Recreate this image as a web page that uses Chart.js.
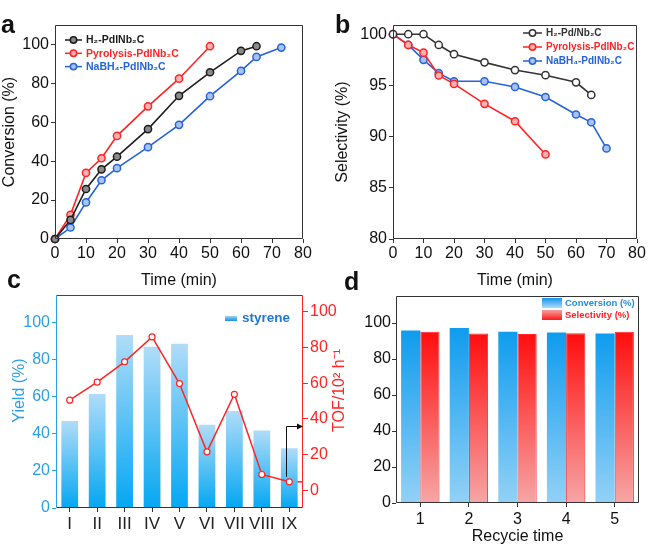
<!DOCTYPE html>
<html>
<head>
<meta charset="utf-8">
<script src="https://cdn.jsdelivr.net/npm/chart.js@4.4.1/dist/chart.umd.min.js"></script>
<style>
  body { margin: 0; background: #fff; width: 666px; height: 551px; position: relative; overflow: hidden;
         font-family: Arial, "Liberation Sans", sans-serif; }
  canvas { position: absolute; }
  .tag { position: absolute; font-weight: bold; font-size: 25px; line-height: 1; color: #111; }
</style>
</head>
<body>
<canvas id="chartA" width="333" height="292" style="left:0;top:0"></canvas>
<canvas id="chartB" width="333" height="292" style="left:333px;top:0"></canvas>
<canvas id="chartC" width="350" height="276" style="left:0;top:275px"></canvas>
<canvas id="chartD" width="333" height="276" style="left:333px;top:275px"></canvas>
<div class="tag" style="left:1px;top:12px">a</div>
<div class="tag" style="left:335px;top:12px">b</div>
<div class="tag" style="left:7px;top:267px">c</div>
<div class="tag" style="left:344px;top:269px">d</div>
<script>
// ---- Data: panel a (conversion vs time) ---------------------
const timeH2   = [0, 5, 10, 15, 20, 30, 40, 50, 60, 65];
const convH2   = [0, 9.8, 25.7, 35.8, 42.3, 56.5, 73.6, 85.7, 96.7, 99.1];
const timePyro = [0, 5, 10, 15, 20, 30, 40, 50];
const convPyro = [0, 12.4, 34, 41.5, 53, 68.2, 82.4, 99.1];
const timeNaBH = [0, 5, 10, 15, 20, 30, 40, 50, 60, 65, 73];
const convNaBH = [0, 5.9, 18.8, 30.2, 36.4, 47.2, 58.7, 73.4, 86.4, 93.6, 98.4];

// ---- Data: panel b (selectivity vs time) --------------------
const selTimeH2   = [0, 5, 10, 15, 20, 30, 40, 50, 60, 65];
const selH2       = [100, 100, 100, 98.95, 98.05, 97.25, 96.5, 96.0, 95.3, 94.07];
const selTimePyro = [0, 5, 10, 15, 20, 30, 40, 50];
const selPyro     = [100, 98.95, 98.2, 95.97, 95.15, 93.2, 91.5, 88.26];
const selTimeNaBH = [0, 5, 10, 15, 20, 30, 40, 50, 60, 65, 70];
const selNaBH     = [100, 98.95, 97.5, 96.2, 95.4, 95.4, 94.85, 93.87, 92.16, 91.4, 88.85];

// ---- Data: panel c (yield bars + TOF line) ------------------
const substrates = ["I", "II", "III", "IV", "V", "VI", "VII", "VIII", "IX"];
const yieldVals  = [47, 61.6, 93.4, 87.1, 88.7, 44.9, 52.4, 41.8, 32.3];
const tofVals    = [50.5, 60.6, 72, 86, 59.8, 21.5, 53.8, 8.8, 4.7];
const arrowFrom  = 7.5, arrowTo = 36;   // TOF-axis values for the arrow marker

// ---- Data: panel d (recycling) ------------------------------
const cycles      = ["1", "2", "3", "4", "5"];
const convRecycle = [95.8, 97.2, 95.2, 94.7, 94.1];
const selRecycle  = [95.2, 94.1, 93.9, 94.3, 95.2];

Chart.defaults.font.family = 'Arial, "Liberation Sans", sans-serif';
Chart.defaults.color = "#111";
Chart.defaults.animation = false;
Chart.defaults.events = [];

const BLACK = "#1c1c1c", RED = "#ff2323", BLUE = "#2563d8";

// ---- Plugins --------------------------------------------------
const frame = {
  id: "frame",
  afterDatasetsDraw(chart, args, o) {
    const { ctx, chartArea: a } = chart;
    const L = Math.round(a.left) + 0.5, R = Math.round(a.right) - 0.5;
    const T = Math.round(a.top) + 0.5,  B = Math.round(a.bottom) - 0.5;
    const seg = (c, x1, y1, x2, y2) => {
      ctx.strokeStyle = c; ctx.beginPath(); ctx.moveTo(x1, y1); ctx.lineTo(x2, y2); ctx.stroke();
    };
    ctx.save();
    ctx.lineWidth = 1;
    seg(o.top || "#333", L, T, R, T);
    seg(o.bottom || "#333", L, B, R, B);
    seg(o.left || "#333", L, T, L, B);
    seg(o.right || "#333", R, T, R, B);
    ctx.restore();
  },
};

const lineLegend = {
  id: "lineLegend",
  afterDatasetsDraw(chart, args, o) {
    const ctx = chart.ctx;
    ctx.save();
    chart.data.datasets.forEach((ds, i) => {
      const y = o.y + i * o.dy;
      ctx.strokeStyle = ds.borderColor;
      ctx.lineWidth = 1.5;
      ctx.beginPath(); ctx.moveTo(o.x, y); ctx.lineTo(o.x + o.len, y); ctx.stroke();
      ctx.beginPath(); ctx.arc(o.x + o.len / 2, y, 3.2, 0, Math.PI * 2);
      ctx.fillStyle = ds.pointBackgroundColor; ctx.fill(); ctx.stroke();
      ctx.fillStyle = ds.borderColor;
      ctx.font = `bold ${o.size}px Arial, "Liberation Sans", sans-serif`;
      ctx.textBaseline = "middle";
      ctx.fillText(ds.label, o.x + o.len + 4, y + 0.5);
    });
    ctx.restore();
  },
};

function barGradient(top, bottom, axisId) {
  return (c) => {
    const chart = c.chart;
    if (!chart.chartArea || c.raw === undefined) return bottom;
    const ys = chart.scales[axisId];
    const y0 = ys.getPixelForValue(c.raw), y1 = ys.getPixelForValue(0);
    const g = chart.ctx.createLinearGradient(0, y0, 0, y1);
    g.addColorStop(0, top);
    g.addColorStop(1, bottom);
    return g;
  };
}

const keepTicks = (lo, hi, step) => (s) => {
  s.ticks = s.ticks.filter((t) => t.value >= lo && t.value <= hi && Math.abs(t.value % step) < 1e-6);
};

function tickFont(size) { return { size: size }; }

function linePanel(id, sets, yMin, yMax, yStep, yTitle, yWidth, padRight, legendCfg) {
  return new Chart(document.getElementById(id), {
    type: "line",
    data: {
      datasets: sets.map((s) => ({
        label: s.label,
        data: s.x.map((x, i) => ({ x: x, y: s.y[i] })),
        borderColor: s.color,
        backgroundColor: s.color,
        pointBackgroundColor: s.fill,
        pointBorderColor: s.color,
        pointRadius: 3.6,
        pointBorderWidth: 1.5,
        borderWidth: 1.6,
        clip: false,
      })),
    },
    options: {
      responsive: false,
      layout: { padding: { top: 25, right: padRight, left: 0, bottom: 0 } },
      plugins: { legend: { display: false }, tooltip: { enabled: false },
                 frame: {}, lineLegend: legendCfg },
      scales: {
        x: {
          type: "linear", min: 0, max: 80,
          ticks: { stepSize: 10, padding: 1, font: tickFont(16), color: "#111", maxRotation: 0 },
          grid: { drawOnChartArea: false, tickLength: 4, color: "#333" },
          border: { display: false },
          title: { display: true, text: "Time (min)", font: { size: 16 }, color: "#111",
                   padding: { top: 0, bottom: 2 } },
          afterFit: (s) => { s.height = 53; },
        },
        y: {
          min: yMin, max: yMax,
          ticks: { stepSize: yStep, padding: 2, font: tickFont(16), color: "#111", includeBounds: false },
          grid: { drawOnChartArea: false, tickLength: 4, color: "#333" },
          border: { display: false },
          title: { display: true, text: yTitle, font: { size: 16 }, color: "#111",
                   padding: { top: 0, bottom: 0 } },
          afterBuildTicks: keepTicks(yMin, 100, yStep),
          afterFit: (s) => { s.width = yWidth; },
        },
      },
    },
    plugins: [frame, lineLegend],
  });
}

// ---- Panel a --------------------------------------------------
linePanel("chartA", [
  { label: "H₂-PdlNb₂C",        x: timeH2,   y: convH2,   color: BLACK, fill: "#8a8a8a" },
  { label: "Pyrolysis-PdlNb₂C", x: timePyro, y: convPyro, color: RED,   fill: "#ffb0b0" },
  { label: "NaBH₄-PdlNb₂C",     x: timeNaBH, y: convNaBH, color: BLUE,  fill: "#a9c2f2" },
], 0, 110, 20, "Conversion (%)", 55, 30, { x: 65, y: 40, dy: 13.3, len: 17, size: 10.5 });

// ---- Panel b --------------------------------------------------
linePanel("chartB", [
  { label: "H₂-Pd/Nb₂C",        x: selTimeH2,   y: selH2,   color: "#333", fill: "#ffffff" },
  { label: "Pyrolysis-PdlNb₂C", x: selTimePyro, y: selPyro, color: RED,    fill: "#ffb0b0" },
  { label: "NaBH₄-PdlNb₂C",     x: selTimeNaBH, y: selNaBH, color: BLUE,   fill: "#a9c2f2" },
], 80, 100.9, 5, "Selectivity (%)", 60, 29, { x: 190, y: 33, dy: 14, len: 19, size: 10 });

// ---- Panel c --------------------------------------------------
const C_BLUE = "#2aa0e4", C_RED = "#ff2424";
const panelC = {
  id: "panelC",
  beforeDatasetsDraw(chart) {
    // TOF line continues flat to the right frame
    const meta = chart.getDatasetMeta(1);
    const last = meta.data[meta.data.length - 1];
    const ctx = chart.ctx;
    ctx.save();
    ctx.strokeStyle = C_RED; ctx.lineWidth = 1.5;
    ctx.beginPath(); ctx.moveTo(last.x, last.y); ctx.lineTo(chart.chartArea.right, last.y); ctx.stroke();
    ctx.restore();
  },
  afterDatasetsDraw(chart) {
    const { ctx, chartArea: a, scales } = chart;
    ctx.save();
    // arrow pointing to the TOF axis
    const x = Math.round(scales.x.getPixelForValue(substrates.length - 1)) - 2.5;
    const y1 = scales.yR.getPixelForValue(arrowFrom), y2 = Math.round(scales.yR.getPixelForValue(arrowTo)) + 0.5;
    ctx.strokeStyle = "#111"; ctx.fillStyle = "#111"; ctx.lineWidth = 1;
    ctx.beginPath(); ctx.moveTo(x, y1); ctx.lineTo(x, y2); ctx.lineTo(a.right - 5, y2); ctx.stroke();
    ctx.beginPath(); ctx.moveTo(a.right, y2); ctx.lineTo(a.right - 6, y2 - 3); ctx.lineTo(a.right - 6, y2 + 3);
    ctx.closePath(); ctx.fill();

    // legend "styrene"
    const g = ctx.createLinearGradient(0, 41, 0, 46);
    g.addColorStop(0, "#9fd3f6"); g.addColorStop(1, "#1a8fe0");
    ctx.fillStyle = g; ctx.fillRect(225, 41, 12, 5);
    ctx.fillStyle = "#2179d4";
    ctx.font = 'bold 13.5px Arial, "Liberation Sans", sans-serif';
    ctx.textBaseline = "middle";
    ctx.fillText("styrene", 242, 43);

    // axis titles (both read bottom-to-top)
    const cy = (a.top + a.bottom) / 2 - 11;
    ctx.font = '16px Arial, "Liberation Sans", sans-serif';
    ctx.textAlign = "center";
    ctx.fillStyle = C_BLUE;
    ctx.save(); ctx.translate(20, cy); ctx.rotate(-Math.PI / 2); ctx.fillText("Yield (%)", 0, 0); ctx.restore();
    ctx.fillStyle = C_RED;
    ctx.save(); ctx.translate(a.right + 37, cy); ctx.rotate(-Math.PI / 2); ctx.fillText("TOF/10² h⁻¹", 0, 0); ctx.restore();
    ctx.restore();
  },
};

new Chart(document.getElementById("chartC"), {
  type: "bar",
  data: {
    labels: substrates,
    datasets: [
      {
        type: "bar", label: "styrene", data: yieldVals, yAxisID: "y", order: 2,
        backgroundColor: barGradient("#b0dcf8", "#04a7f2", "y"),
        barPercentage: 0.61, categoryPercentage: 1,
      },
      {
        type: "line", label: "TOF", data: tofVals, yAxisID: "yR", order: 1,
        borderColor: C_RED, borderWidth: 1.5,
        pointRadius: 3, pointBorderWidth: 1.2, pointBackgroundColor: "#fff", pointBorderColor: C_RED,
        clip: false,
      },
    ],
  },
  options: {
    responsive: false,
    layout: { padding: { top: 20, right: 0, left: 0, bottom: 0 } },
    plugins: { legend: { display: false }, tooltip: { enabled: false },
               frame: { left: C_BLUE, right: C_RED, top: "#444", bottom: "#333" } },
    scales: {
      x: {
        ticks: { padding: 2, font: tickFont(17), color: "#222", maxRotation: 0, autoSkip: false },
        grid: { drawOnChartArea: false, drawTicks: true, tickLength: 4, color: "#333", offset: false },
        border: { display: false },
        afterFit: (s) => { s.height = 43; },
      },
      y: {
        position: "left", min: 0, max: 115,
        ticks: { stepSize: 20, padding: 2, font: tickFont(16), color: C_BLUE, includeBounds: false },
        grid: { drawOnChartArea: false, tickLength: 4, color: C_BLUE },
        border: { display: false },
        afterBuildTicks: keepTicks(0, 100, 20),
        afterFit: (s) => { s.width = 56; },
      },
      yR: {
        position: "right", min: -10, max: 109.5,
        ticks: { stepSize: 20, padding: 2, font: tickFont(16), color: C_RED, includeBounds: false },
        grid: { drawOnChartArea: false, tickLength: 5, color: C_RED },
        border: { display: false },
        afterBuildTicks: keepTicks(0, 100, 20),
        afterFit: (s) => { s.width = 47; },
      },
    },
  },
  plugins: [frame, panelC],
});

// ---- Panel d --------------------------------------------------
const legendD = {
  id: "legendD",
  afterDatasetsDraw(chart) {
    const ctx = chart.ctx;
    const rows = [
      { text: "Conversion (%)",  top: "#1596ec", bottom: "#a9dbfa", color: "#1f8fe0", y: 23 },
      { text: "Selectivity (%)", top: "#f7a0a0", bottom: "#ff1a1a", color: "#ff2020", y: 35 },
    ];
    ctx.save();
    ctx.font = 'bold 9.5px Arial, "Liberation Sans", sans-serif';
    ctx.textBaseline = "middle";
    rows.forEach((r) => {
      const g = ctx.createLinearGradient(0, r.y, 0, r.y + 10);
      g.addColorStop(0, r.top); g.addColorStop(1, r.bottom);
      ctx.fillStyle = g; ctx.fillRect(209, r.y, 20, 10);
      ctx.fillStyle = r.color;
      ctx.fillText(r.text, 232, r.y + 5.5);
    });
    ctx.restore();
  },
};

new Chart(document.getElementById("chartD"), {
  type: "bar",
  data: {
    labels: cycles,
    datasets: [
      {
        label: "Conversion (%)", data: convRecycle,
        backgroundColor: barGradient("#0f9cee", "#93d1f6", "y"),
        barPercentage: 1, categoryPercentage: 0.79,
      },
      {
        label: "Selectivity (%)", data: selRecycle,
        backgroundColor: barGradient("#ff0d0d", "#f6a6a6", "y"),
        borderColor: "#ff2a2a", borderWidth: 1,
        barPercentage: 1, categoryPercentage: 0.79,
      },
    ],
  },
  options: {
    responsive: false,
    layout: { padding: { top: 21, right: 27, left: 0, bottom: 0 } },
    plugins: { legend: { display: false }, tooltip: { enabled: false }, frame: {} },
    scales: {
      x: {
        ticks: { padding: 3, font: tickFont(16), color: "#111", maxRotation: 0 },
        grid: { drawOnChartArea: false, tickLength: 4, color: "#333", offset: false },
        border: { display: false },
        title: { display: true, text: "Recycie time", font: { size: 16 }, color: "#111",
                 padding: { top: 0, bottom: 5 } },
        afterFit: (s) => { s.height = 48; },
      },
      y: {
        min: 0, max: 115,
        ticks: { stepSize: 20, padding: 1, font: tickFont(16), color: "#111", includeBounds: false },
        grid: { drawOnChartArea: false, tickLength: 4, color: "#333" },
        border: { display: false },
        afterBuildTicks: keepTicks(0, 100, 20),
        afterFit: (s) => { s.width = 63; },
      },
    },
  },
  plugins: [frame, legendD],
});
</script>
</body>
</html>
